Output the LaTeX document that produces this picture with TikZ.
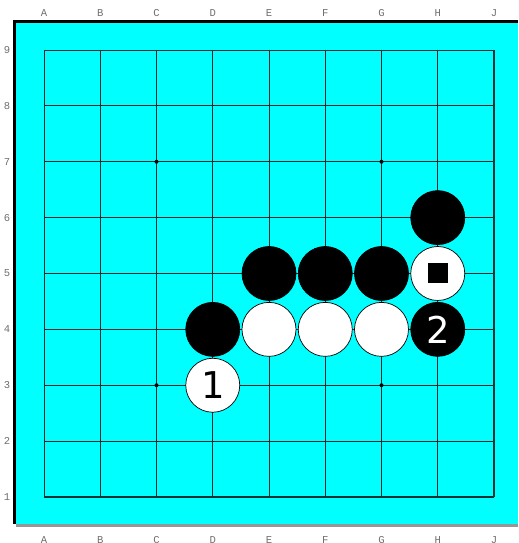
\documentclass[tikz,border=0pt]{standalone}
\usepackage{fontspec}
\setmonofont{Liberation Mono}
\newfontfamily\stonefont{DejaVu Sans}
\usetikzlibrary{positioning}
\definecolor{felt}{RGB}{0,255,255}
\definecolor{rim}{RGB}{150,150,150}
\definecolor{coord}{RGB}{110,110,110}
\tikzset{
  blackstone/.style={circle,fill=black,draw=black,thin,minimum size=10.8mm,inner sep=0pt,
    text=white,font=\stonefont\fontsize{21}{21}\selectfont},
  whitestone/.style={circle,fill=white,draw=black,thin,minimum size=10.8mm,inner sep=0pt,
    text=black,font=\stonefont\fontsize{21}{21}\selectfont},
  coordlabel/.style={text=coord,font=\ttfamily\fontsize{6}{6}\selectfont,inner sep=0pt},
  hoshi/.style={circle,fill=black,inner sep=0pt,minimum size=0.8mm},
}
\begin{document}
\begin{tikzpicture}[x=1.125cm,y=1.1175cm]
        \useasboundingbox (-0.88cm,-0.92cm) rectangle (9.48cm,9.94cm);
        % board
        \fill[felt] (-0.56cm,-0.54cm) rectangle (9.48cm,9.48cm);
        \fill[black] (-0.62cm,9.48cm) rectangle (9.48cm,9.54cm);
        \fill[black] (-0.62cm,-0.54cm) rectangle (-0.56cm,9.54cm);
        \fill[rim] (-0.56cm,-0.54cm) rectangle (9.48cm,-0.60cm);
        % grid
        \foreach \i in {0,...,8} {
          \draw[black!85,line width=0.5pt] (\i,0) -- (\i,8);
          \draw[black!85,line width=0.5pt] (0,\i) -- (8,\i);
        }
        \draw[black!60!teal,line width=1pt] (8,0) -- (8,8);
        \draw[black!60!teal,line width=0.8pt] (0,0) -- (8,0);
        \foreach \p in {(2,2),(6,2),(2,6),(6,6)} \node[hoshi] at \p {};
        % coordinates
        \foreach \c [count=\i from 0] in {A,B,C,D,E,F,G,H,J} {
          \node[coordlabel] (top\c) at (\i,9.68cm) {\c};
          \node[coordlabel] (bot\c) at (\i,-0.86cm) {\c};
        }
        \foreach \r in {1,...,9} \node[coordlabel] (row\r) at (-0.74cm,\r-1) {\r};
        % stones
        \node[blackstone] (d4) at (3,3) {};
        \node[blackstone] (e5) at (4,4) {};
        \node[blackstone] (f5) at (5,4) {};
        \node[blackstone] (g5) at (6,4) {};
        \node[blackstone] (h6) at (7,5) {};
        \node[whitestone] (e4) at (4,3) {};
        \node[whitestone] (f4) at (5,3) {};
        \node[whitestone] (g4) at (6,3) {};
        \node[whitestone] (h5) at (7,4) {};
        \fill[black] ([shift={(-0.2cm,-0.2cm)}]h5.center) rectangle ([shift={(0.2cm,0.2cm)}]h5.center);
        \node[blackstone] (h4) at (7,3) {2};
        \node[whitestone] (d3) at (3,2) {1};
      \end{tikzpicture}
\end{document}
